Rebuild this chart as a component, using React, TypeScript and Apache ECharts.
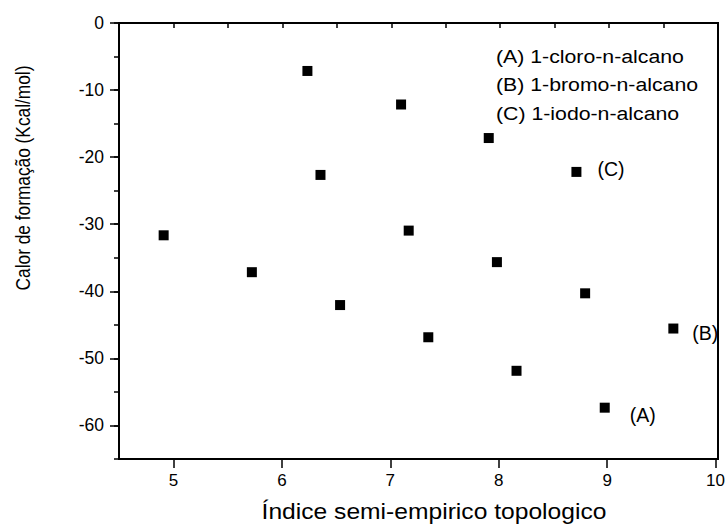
import React, { useEffect, useRef } from 'react';
import * as echarts from 'echarts';

// ---- data ----
const seriesNames = ['(A) 1-cloro-n-alcano', '(B) 1-bromo-n-alcano', '(C) 1-iodo-n-alcano'];
const seriesTags = ['(A)', '(B)', '(C)'];

const xA = [4.91, 5.72, 6.53, 7.34, 8.15, 8.96];
const yA = [-31.65, -37.15, -42.05, -46.85, -51.85, -57.35];

const xB = [6.35, 7.16, 7.97, 8.78, 9.59];
const yB = [-22.65, -30.95, -35.65, -40.3, -45.55];

const xC = [6.23, 7.09, 7.895, 8.7];
const yC = [-7.15, -12.15, -17.15, -22.2];

const xTitle = 'Índice semi-empirico topologico';
const yTitle = 'Calor de formação (Kcal/mol)';

// axis ranges
const xMin = 4.5;
const xMax = 10;
const xMajorMin = 5;
const yMin = -65;
const yMax = 0;
const yMajorMin = -60;

const FONT = '"Liberation Sans", Arial, sans-serif';

// layout
const W = 728;
const H = 526;
const GL = 119;
const GT = 23;
const GR = 10;
const GB = 67;
const STRETCH = 1.12; // the reference's text is slightly wider than tall

export default function App() {
  const ref = useRef<HTMLDivElement>(null);

  useEffect(() => {
    if (!ref.current) return;
    const chart = echarts.init(ref.current, undefined, { renderer: 'svg' });

    const gw = W - GL - GR;
    const gh = H - GT - GB;
    const pxPerX = gw / (xMax - xMin);
    const pxPerY = gh / (yMax - yMin);
    const grid1Left = GL + (xMajorMin - xMin) * pxPerX;
    const grid2Bottom = H - (GT + (yMax - yMajorMin) * pxPerY);

    const black = '#000';

    const tagLabel = (tag: string, distance: number, offset: number[]) => ({
      show: true,
      formatter: tag,
      position: 'right',
      distance,
      offset,
      fontSize: 19.5,
      fontFamily: FONT,
      color: black,
      opacity: 1,
    });

    const mk = (xs: number[], ys: number[], tag: string, distance: number, offset: number[]) =>
      xs.map((x, i) => {
        const d: any = { value: [x, ys[i]] };
        if (i === xs.length - 1) d.label = tagLabel(tag, distance, offset);
        return d;
      });

    const minorTick = { show: true, inside: false, length: 5, lineStyle: { color: black, width: 1.5 } };
    const majorTick = { show: true, inside: false, length: 9, lineStyle: { color: black, width: 1.5 } };
    const marker = { color: black, opacity: 1 };

    chart.setOption({
      animation: false,
      backgroundColor: '#fff',
      grid: [
        { left: GL, top: GT, right: GR, bottom: GB, show: true, borderColor: black, borderWidth: 2, backgroundColor: 'transparent' },
        { left: grid1Left, top: GT, right: GR, bottom: GB },
        { left: GL, top: GT, right: GR, bottom: grid2Bottom },
      ],
      xAxis: [
        {
          gridIndex: 0, type: 'value', min: xMin, max: xMax, interval: 0.5,
          axisLine: { show: true, lineStyle: { color: black, width: 2 } },
          axisTick: minorTick, axisLabel: { show: false }, splitLine: { show: false },
        },
        {
          gridIndex: 1, type: 'value', min: xMajorMin, max: xMax, interval: 1,
          axisLine: { show: false }, axisTick: majorTick, splitLine: { show: false },
          axisLabel: { show: true, fontSize: 17, fontFamily: FONT, color: black, margin: 13 },
        },
        { gridIndex: 2, type: 'value', show: false, min: 0, max: 1 },
      ],
      yAxis: [
        {
          gridIndex: 0, type: 'value', min: yMin, max: yMax, interval: 5,
          axisLine: { show: true, lineStyle: { color: black, width: 2 } },
          axisTick: minorTick, axisLabel: { show: false }, splitLine: { show: false },
        },
        { gridIndex: 1, type: 'value', show: false, min: 0, max: 1 },
        {
          gridIndex: 2, type: 'value', min: yMajorMin, max: yMax, interval: 10,
          axisLine: { show: false }, axisTick: majorTick, splitLine: { show: false },
          axisLabel: { show: true, fontSize: 17.5, fontFamily: FONT, color: black, margin: 15 },
        },
      ],
      series: [
        {
          name: seriesNames[0], type: 'scatter', xAxisIndex: 0, yAxisIndex: 0,
          symbol: 'rect', symbolSize: 10, itemStyle: marker,
          data: mk(xA, yA, seriesTags[0], 20, [0, 7]),
        },
        {
          name: seriesNames[1], type: 'scatter', xAxisIndex: 0, yAxisIndex: 0,
          symbol: 'rect', symbolSize: 10, itemStyle: marker,
          data: mk(xB, yB, seriesTags[1], 14, [0, 4]),
        },
        {
          name: seriesNames[2], type: 'scatter', xAxisIndex: 0, yAxisIndex: 0,
          symbol: 'rect', symbolSize: 10, itemStyle: marker,
          data: mk(xC, yC, seriesTags[2], 16, [0, -3]),
        },
      ],
      graphic: [
        ...seriesNames.map((name, i) => ({
          type: 'text',
          x: 496,
          y: 56 + i * 28.5,
          scaleX: STRETCH,
          style: { text: name, fontSize: 19, fontFamily: FONT, fill: black, align: 'left', verticalAlign: 'middle' },
        })),
        {
          type: 'text', x: 434, y: 511, scaleX: STRETCH,
          style: { text: xTitle, fontSize: 22, fontFamily: FONT, fill: black, align: 'center', verticalAlign: 'middle' },
        },
        {
          type: 'text', x: 23, y: 178, rotation: Math.PI / 2, scaleY: STRETCH,
          style: { text: yTitle, fontSize: 17.3, fontFamily: FONT, fill: black, align: 'center', verticalAlign: 'middle' },
        },
      ],
    });

    return () => chart.dispose();
  }, []);

  return (
    <div
      ref={ref}
      style={{ position: 'fixed', left: 0, top: 0, width: W, height: H, background: '#fff' }}
    />
  );
}
